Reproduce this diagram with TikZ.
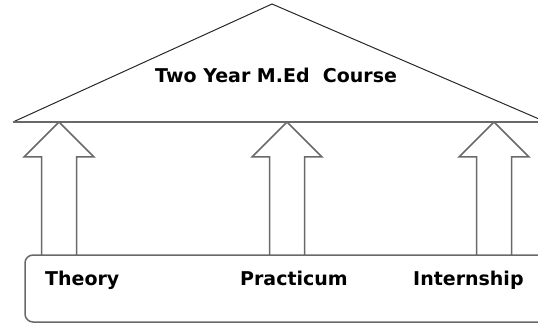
\documentclass[tikz,border=0pt]{standalone}
\usepackage{fontspec}
\setmainfont{DejaVu Sans}
\usetikzlibrary{positioning}
\definecolor{white}{RGB}{255,255,255}
\definecolor{dark_gray}{RGB}{40,40,40}
\definecolor{line_gray}{RGB}{105,105,105}

\begin{document}
\begin{tikzpicture}[x=1pt,y=-1pt]
	\tikzset{label_text/.style={anchor=base west,inner sep=0pt,font=\fontsize{19}{21}\selectfont\bfseries}}
	\useasboundingbox (0,0) rectangle (538,323);
	\clip (0,0) rectangle (538,323);

	% roof
	\coordinate (apex) at (272,4);
	\coordinate (roof_left) at (13,122);
	\coordinate (roof_right) at (546,122);
	\draw[dark_gray,line width=1pt] (roof_left) -- (apex) -- (roof_right);
	\draw[line_gray,line width=1.8pt] (roof_left) -- (roof_right);
	\node[label_text] (course) at (155,83) {Two Year M.Ed\ \ Course};

	% base
	\draw[line_gray,line width=1.5pt,rounded corners=8pt] (560,255) -- (25,255) -- (25,322) -- (560,322);
	\node[label_text] (theory) at (45,285) {Theory};
	\node[label_text] (practicum) at (240,285) {Practicum};
	\node[label_text] (internship) at (413,285) {Internship};

	% pillars
	\foreach \x in {59,287,494}
		\draw[line_gray,line width=1.5pt,fill=white] (\x,122) -- (\x+35,157) -- (\x+17.5,157) -- (\x+17.5,255) -- (\x-17.5,255) -- (\x-17.5,157) -- (\x-35,157) -- cycle;
\end{tikzpicture}
\end{document}
